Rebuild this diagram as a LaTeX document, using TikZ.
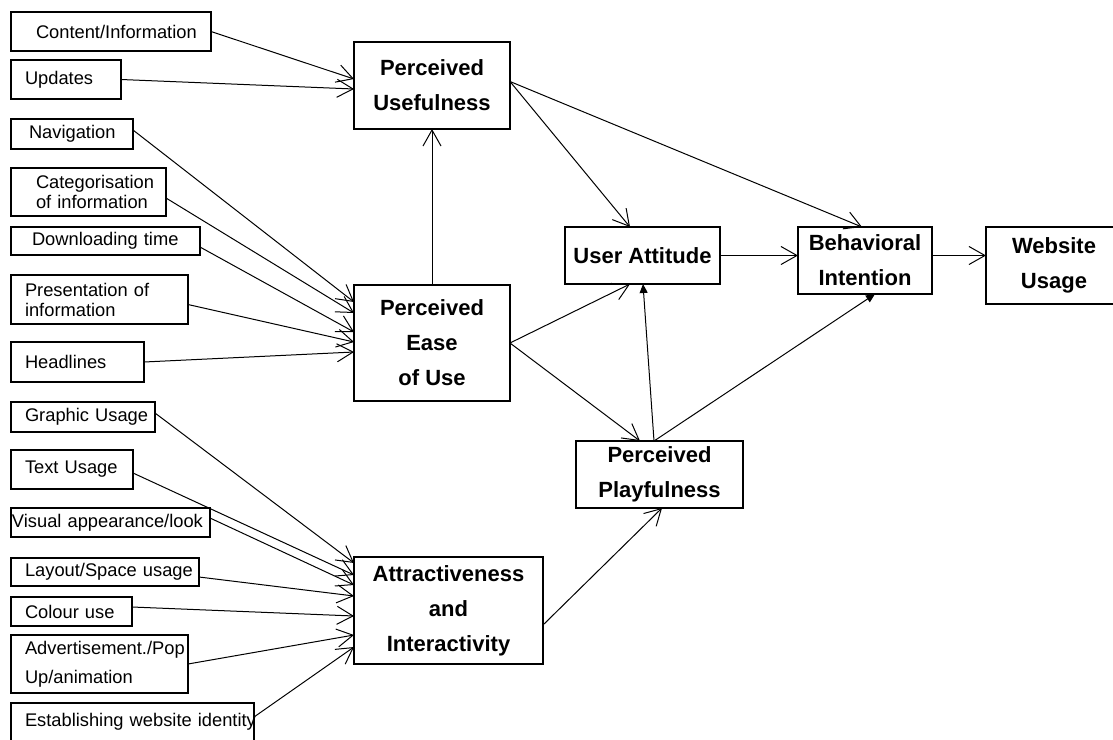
\documentclass[tikz,border=0pt]{standalone}
\usepackage{fontspec}
\setmainfont{Liberation Sans}
\usetikzlibrary{arrows.meta,calc}
\newcommand{\factorfont}{\fontsize{18.3}{20}\selectfont\hyphenpenalty=10000\exhyphenpenalty=10000}
\newcommand{\constructfont}{\fontsize{22}{35}\selectfont\bfseries}
\tikzset{
    factor/.style={rectangle, draw, line width=1.3pt, anchor=north west, align=left, inner ysep=0pt, inner xsep=14pt, outer sep=0pt, font=\factorfont},
    construct/.style={rectangle, draw, line width=1.3pt, anchor=north west, align=center, inner sep=0pt, outer sep=0pt, font=\constructfont},
    link/.style={-{Straight Barb[length=16pt,width=18pt]}, line width=1pt},
    flink/.style={-{Triangle[length=9pt,width=8pt]}, line width=1pt},
}

\begin{document}
\begin{tikzpicture}[x=1pt, y=-1pt]
    \useasboundingbox (0,0) rectangle (1113,739);
    \clip (0,0) rectangle (1113,739);

    % Factors of usefulness and ease of use
    \node[factor, text width=150pt, inner xsep=25pt, minimum height=39pt] (content) at (11,12) {Content/Information};
    \node[factor, text width=82pt, minimum height=39pt] (updates) at (11,60) {Updates};
    \node[factor, text width=86pt, inner xsep=18pt, minimum height=30pt] (navig) at (11,119) {Navigation};
    \node[factor, text width=105pt, inner xsep=25pt, minimum height=48pt] (categ) at (11,168) {Categorisation\\of~information};
    \node[factor, text width=147pt, inner xsep=21pt, minimum height=28pt] (download) at (11,227) {Downloading~time};
    \node[factor, text width=149pt, minimum height=49pt] (present) at (11,275) {Presentation~of\\information};
    \node[factor, text width=105pt, minimum height=40pt] (headl) at (11,342) {Headlines};

    % Factors of attractiveness
    \node[factor, text width=116pt, minimum height=30pt] (graphic) at (11,402) {Graphic~Usage};
    \node[factor, text width=94pt, minimum height=39pt] (textuse) at (11,450) {Text~Usage};
    \node[factor, text width=197pt, inner xsep=1pt, minimum height=29pt] (visual) at (11,508) {Visual~appearance/look};
    \node[factor, text width=160pt, minimum height=28pt] (layout) at (11,558) {Layout/Space~usage};
    \node[factor, text width=93pt, minimum height=29pt] (colour) at (11,597) {Colour~use};
    \node[factor, text width=149pt, minimum height=58pt] (advert) at (11,635) {Advertisement./Pop\\[9pt]Up/animation};
    \node[factor, text width=215pt, minimum height=38pt] (identity) at (11,703) {Establishing~website~identity};

    % Constructs
    \node[construct, minimum width=156pt, minimum height=87pt] (PU) at (354,42) {Perceived\\Usefulness};
    \node[construct, minimum width=156pt, minimum height=116pt] (PEU) at (354,285) {Perceived\\Ease\\of Use};
    \node[construct, minimum width=155pt, minimum height=57pt] (UA) at (565,227) {User Attitude};
    \node[construct, minimum width=134pt, minimum height=67pt] (BI) at (798,227) {Behavioral\\Intention};
    \node[construct, minimum width=136pt, minimum height=77pt] (WU) at (986,227) {Website\\Usage};
    \node[construct, minimum width=167pt, minimum height=67pt] (PP) at (576,441) {Perceived\\Playfulness};
    \node[construct, minimum width=189pt, minimum height=107pt] (AI) at (354,557) {Attractiveness\\and\\Interactivity};

    % Inputs
    \draw[link] (content.east) -- ($(PU.north west)+(0,37)$);
    \draw[link] (updates.east) -- ($(PU.north west)+(0,47)$);
    \draw[link] ($(navig.east)+(0,-4)$) -- ($(PEU.north west)+(0,17)$);
    \draw[link] ($(categ.east)+(0,6)$) -- ($(PEU.north west)+(0,28)$);
    \draw[link] ($(download.east)+(0,6)$) -- ($(PEU.north west)+(0,47)$);
    \draw[link] ($(present.east)+(0,5)$) -- ($(PEU.north west)+(0,57)$);
    \draw[link] (headl.east) -- ($(PEU.north west)+(0,67)$);

    \draw[link] ($(graphic.north east)+(0,11)$) -- ($(AI.north west)+(0,6)$);
    \draw[link] ($(textuse.north east)+(0,23)$) -- ($(AI.north west)+(0,18)$);
    \draw[link] ($(visual.north east)+(0,10)$) -- ($(AI.north west)+(0,28)$);
    \draw[link] ($(layout.north east)+(0,19)$) -- ($(AI.north west)+(0,39)$);
    \draw[link] ($(colour.north east)+(0,10)$) -- ($(AI.north west)+(0,59)$);
    \draw[link] (advert.east) -- ($(AI.north west)+(0,78)$);
    \draw[link] ($(identity.north east)+(0,14)$) -- ($(AI.north west)+(0,90)$);

    % Model
    \draw[link] (PEU.north) -- (PU.south);
    \draw[link] ($(PU.east)+(0,-4)$) -- ($(UA.north west)+(65,0)$);
    \draw[link] ($(PU.east)+(0,-4)$) -- ($(BI.north west)+(64,0)$);
    \draw[link] (PEU.east) -- ($(UA.south west)+(65,0)$);
    \draw[link] (PEU.east) -- ($(PP.north west)+(64,0)$);
    \draw[flink] ($(PP.north west)+(78,0)$) -- ($(UA.south west)+(78,0)$);
    \draw[flink] ($(PP.north west)+(78,0)$) -- ($(BI.south west)+(77,0)$);
    \draw[link] ($(AI.north east)+(0,68)$) -- ($(PP.south west)+(86,0)$);
    \draw[link] (UA.east) -- (UA.east -| BI.west);
    \draw[link] (BI.east |- UA.east) -- (WU.west |- UA.east);
\end{tikzpicture}
\end{document}
